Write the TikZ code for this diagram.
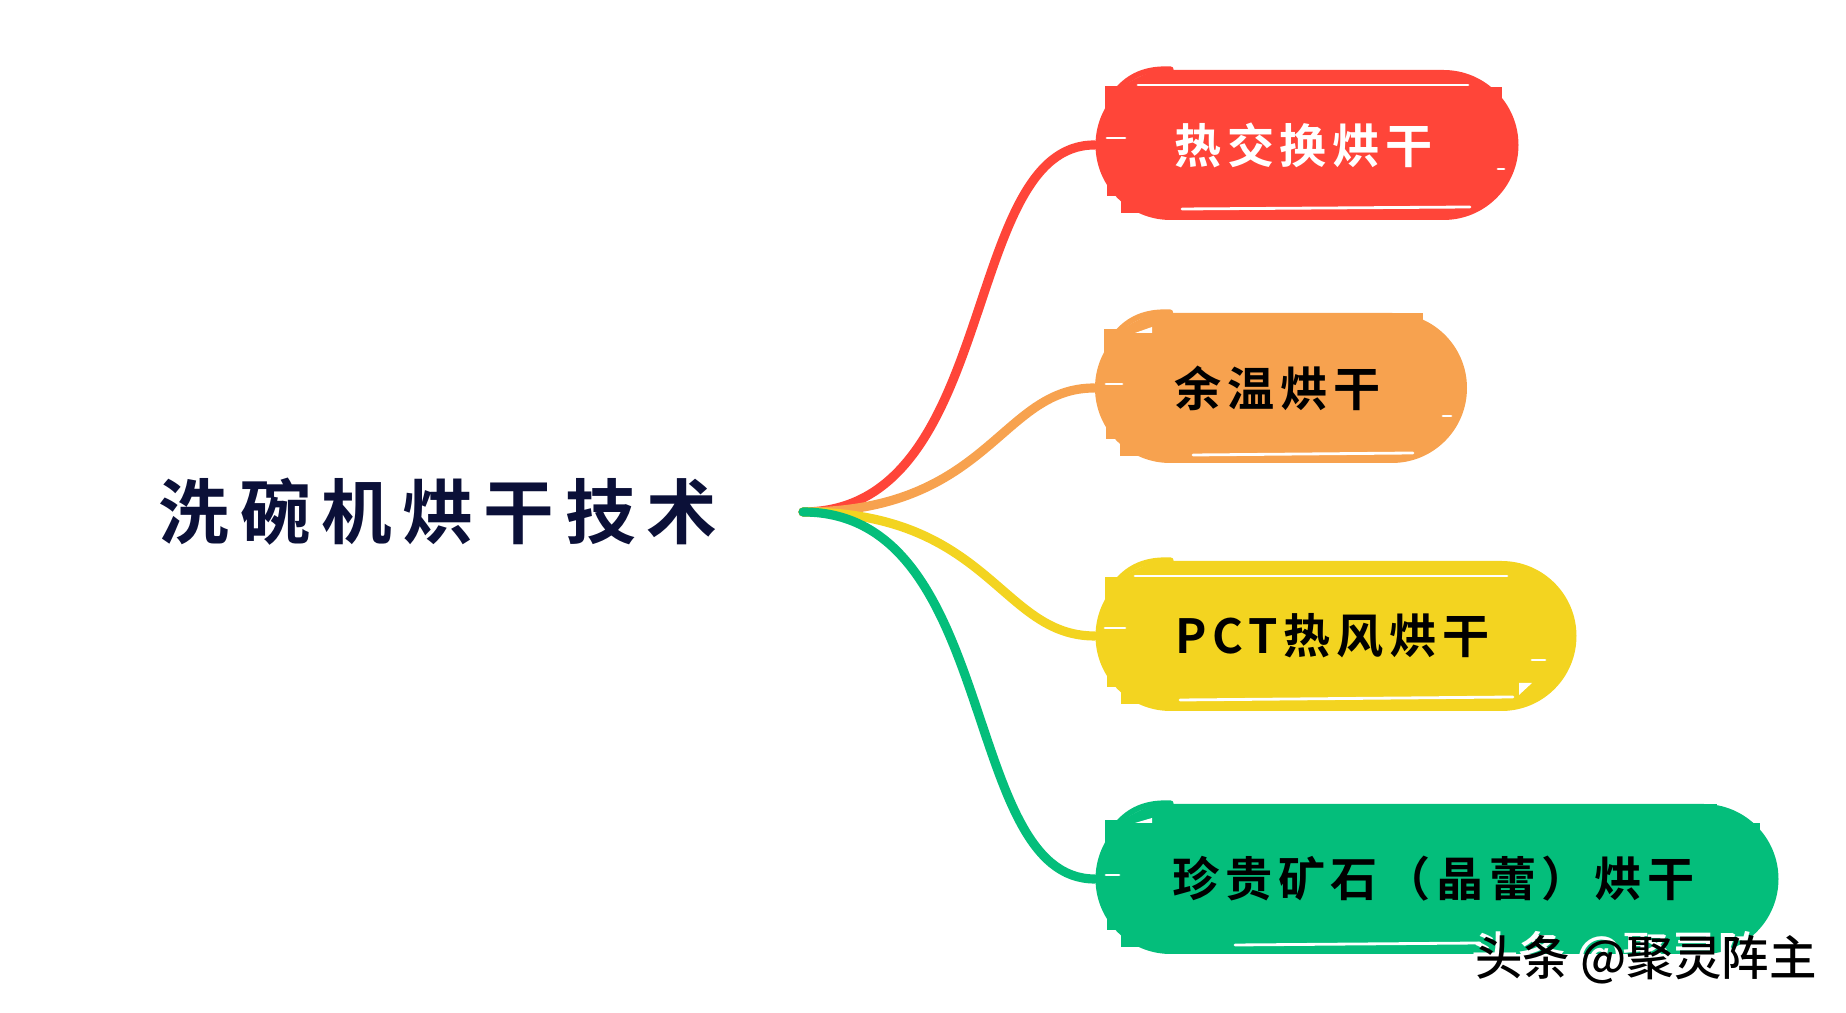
\documentclass[tikz,border=0pt]{standalone}
\usepackage{xcolor}
\usepackage{fontspec}
\setmainfont{Noto Sans CJK SC}
\newfontfamily\topicfont[LetterSpace=12]{Noto Sans CJK SC Bold}
\newfontfamily\rootfont[LetterSpace=15]{Noto Sans CJK SC Bold}
\newfontfamily\markfont{Noto Sans CJK SC Medium}
\usetikzlibrary{shapes.misc}
\usetikzlibrary{calc}
\definecolor{topicred}{HTML}{FF4539}
\definecolor{topicorange}{HTML}{F7A24F}
\definecolor{topicyellow}{HTML}{F3D420}
\definecolor{topicgreen}{HTML}{04BE7B}
\definecolor{rootink}{HTML}{0B1038}
\tikzstyle{topic}=[rounded rectangle, minimum height=1.5cm, inner sep=0pt,% a plain pill
font=\topicfont\fontsize{13.4}{15}\selectfont, execute at end node={\kern0.07cm}]
\tikzstyle{link}=[line width=2.6pt, line cap=round]
\tikzstyle{hook}=[line width=1.6pt, line cap=round]
\tikzstyle{gap}=[white, line width=0.8pt, line cap=round]
\tikzstyle{markstyle}=[font=\markfont\fontsize{13.5}{15}\selectfont]
% rough left end of a topic
\newcommand{\brushmarks}[2]{
\coordinate (#1nw) at (#1.west |- #1.north);
\coordinate (#1sw) at (#1.west |- #1.south);
\fill[#2] ($(#1nw)+(0.10,-0.17)$) rectangle ($(#1nw)+(0.55,-0.60)$);
\fill[#2] ($(#1sw)+(0.26,0.08)$) rectangle ($(#1sw)+(0.65,0.40)$);
\fill[#2] ($(#1sw)+(0.12,0.25)$) rectangle ($(#1sw)+(0.40,0.50)$);
\draw[hook,#2] ($(#1nw)+(0.24,-0.19)$) .. controls ($(#1nw)+(0.38,-0.04)$) and ($(#1nw)+(0.55,0.01)$) .. ($(#1nw)+(0.76,0)$);
}
\begin{document}
\begin{tikzpicture}
\useasboundingbox (0,0) rectangle (18.46,10.13);
\node[font=\rootfont\fontsize{20.1}{22}\selectfont, text=rootink] (root) at (4.38,5.01) {洗碗机烘干技术};
\coordinate (hub) at (8.03,5.01);
\node[topic, fill=topicred, text=white, minimum width=4.23cm] (heat) at (13.07,8.68) {热交换烘干};
\node[topic, fill=topicorange, text=black, minimum width=3.72cm] (residual) at (12.81,6.25) {余温烘干};
\node[topic, fill=topicyellow, text=black, minimum width=4.81cm] (pct) at (13.36,3.77) {PCT热风烘干};
\node[topic, fill=topicgreen, text=black, minimum width=6.83cm] (crystal) at (14.37,1.34) {珍贵矿石（晶蕾）烘干};
\brushmarks{heat}{topicred}
\brushmarks{residual}{topicorange}
\brushmarks{pct}{topicyellow}
\brushmarks{crystal}{topicgreen}
% right ends
\fill[topicred] (15.02,9.26) rectangle (14.70,8.90);
\fill[topicorange] (13.90,7.00) rectangle (14.23,6.85);
\fill[topicyellow] (15.43,4.36) rectangle (15.10,4.00);
\fill[topicgreen] (16.90,2.09) rectangle (17.17,1.96);
\fill[topicgreen] (17.60,1.90) rectangle (17.20,1.50);
% white gaps
\draw[gap] (11.38,9.28) -- (14.68,9.28);
\draw[gap] (11.82,8.04) -- (14.70,8.06);
\draw[gap] (11.07,8.75) -- (11.25,8.75);
\draw[gap] (14.98,8.44) -- (15.04,8.44);
\fill[white] (11.35,6.80) -- (11.52,6.86) -- (11.52,6.80) -- cycle;
\draw[gap] (11.93,5.58) -- (14.13,5.60);
\draw[gap] (11.06,6.29) -- (11.22,6.29);
\draw[gap] (14.43,5.97) -- (14.51,5.97);
\draw[gap] (11.35,4.37) -- (15.07,4.37);
\draw[gap] (11.80,3.13) -- (15.13,3.16);
\draw[gap] (11.05,3.85) -- (11.25,3.85);
\draw[gap] (15.32,3.53) -- (15.45,3.53);
\fill[white] (15.19,3.30) -- (15.32,3.30) -- (15.19,3.18) -- cycle;
\fill[white] (11.35,1.90) -- (11.52,1.95) -- (11.52,1.90) -- cycle;
\draw[gap] (12.35,0.68) -- (14.80,0.70);
\draw[gap] (11.06,1.38) -- (11.19,1.38);
% links
\draw[link, topicred] (hub) .. controls (10.0,5.01) and (9.6,8.69) .. (heat.west);
\draw[link, topicorange] (hub) .. controls (9.9,5.01) and (10.0,6.25) .. (residual.west);
\draw[link, topicyellow] (hub) .. controls (9.9,5.01) and (10.0,3.77) .. (pct.west);
\draw[link, topicgreen] (hub) .. controls (10.0,5.01) and (9.6,1.34) .. (crystal.west);
\node[markstyle, text=white] (markback) at (16.42,0.57) {头条 @聚灵阵主};
\node[markstyle, text=black] (mark) at (16.46,0.53) {头条 @聚灵阵主};
\end{tikzpicture}
\end{document}
